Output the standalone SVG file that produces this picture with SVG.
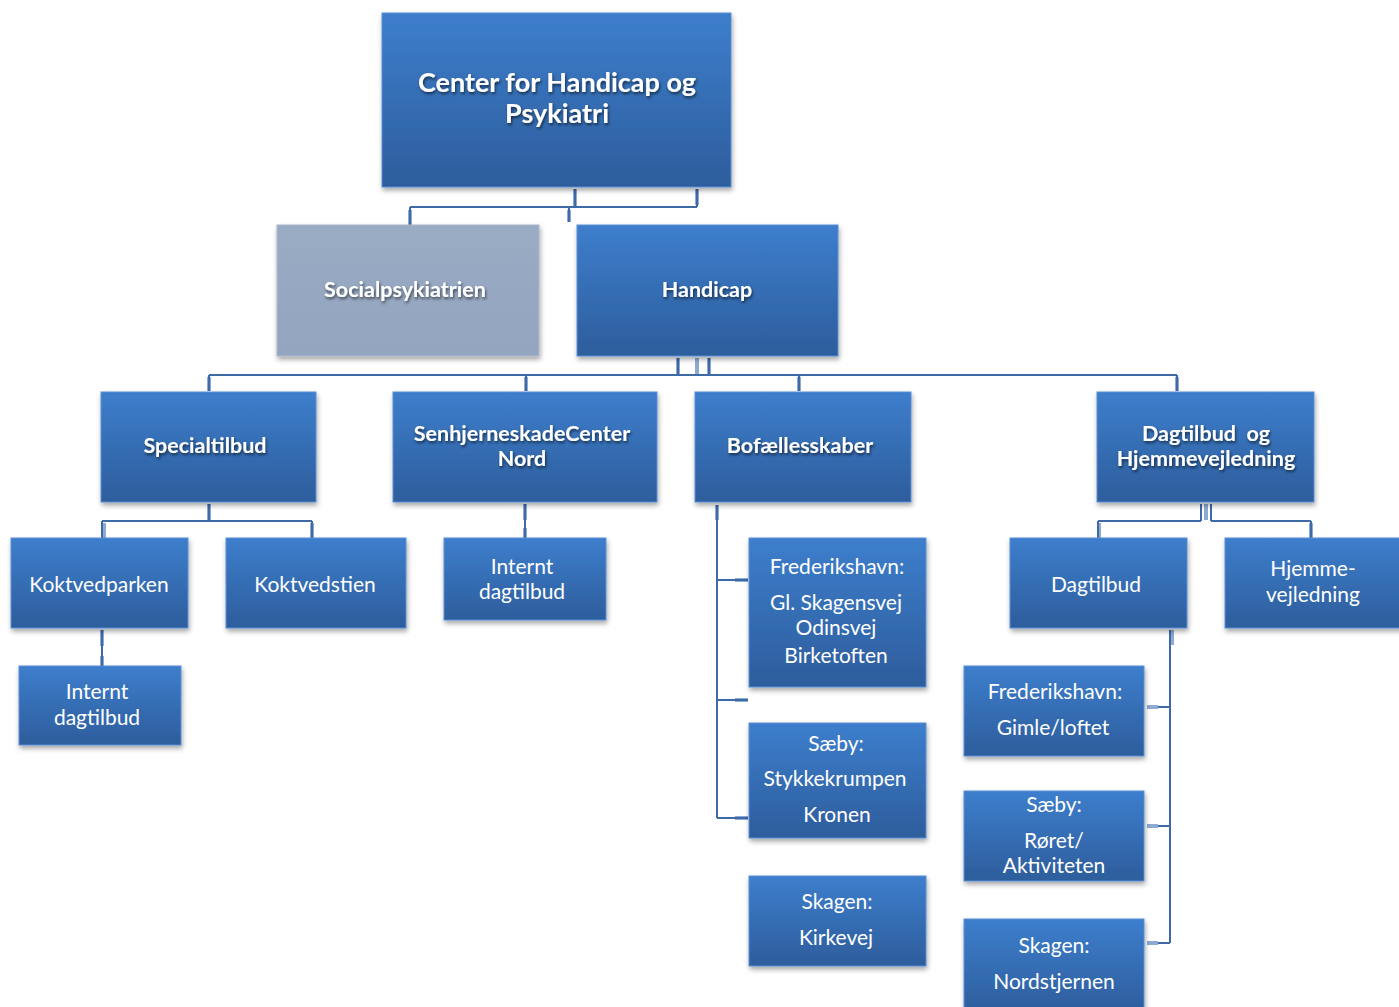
<svg xmlns="http://www.w3.org/2000/svg" width="1399" height="1007" viewBox="0 0 1399 1007">
<defs>
<linearGradient id="blue" x1="0" y1="0" x2="0" y2="1">
<stop offset="0" stop-color="#3d7ecc"/>
<stop offset="1" stop-color="#2d5d9c"/>
</linearGradient>
<linearGradient id="grey" x1="0" y1="0" x2="0" y2="1">
<stop offset="0" stop-color="#9aabc4"/>
<stop offset="1" stop-color="#93a5bf"/>
</linearGradient>
<filter id="sh" x="-10%" y="-10%" width="125%" height="130%">
<feDropShadow dx="1" dy="3" stdDeviation="2.5" flood-color="#000" flood-opacity="0.35"/>
</filter>
<filter id="tsh" x="-10%" y="-30%" width="120%" height="160%">
<feDropShadow dx="1" dy="2" stdDeviation="1.5" flood-color="#000" flood-opacity="0.6"/>
</filter>
</defs>
<style>
.box{fill:url(#blue);stroke:#5b8fd6;stroke-width:1;filter:url(#sh)}
.gbox{fill:url(#grey);stroke:#a9b8cc;stroke-width:1;filter:url(#sh)}
text{font-family:Lato,"Open Sans","Liberation Sans",sans-serif;fill:#fff;text-anchor:middle}
.t{font-size:21px}
.b{font-size:21.5px;font-weight:bold;filter:url(#tsh)}
.bt{font-size:27px;font-weight:bold;filter:url(#tsh)}
.ln{fill:none;stroke:#3e6aa8;stroke-width:2}
.st{fill:none;stroke:#8eaad2;stroke-width:4}
</style>
<rect width="1399" height="1007" fill="#fff"/>
<g id="connectors">
<path class="st" d="M575 189V206M697 189V205M410 210V225M569 210V222"/>
<path class="ln" d="M575 189V207M697 189V207M410 207H697M410 207V225M569 207V222"/>
<path class="st" d="M678 358V374M697 358V374M709 358V374M209 377V391M526 377V391M799 377V391M1177 377V391"/>
<path class="ln" d="M209 375H1177M209 375V391M526 375V391M799 375V391M1177 375V391M678 358V375M709 358V375"/>
<path class="st" d="M209 504V520M104 523V538M312 523V538"/>
<path class="ln" d="M209 504V521M102 521H312M102 521V538M312 521V538"/>
<path class="st" d="M102 630V646M102 656V666"/>
<path class="ln" d="M102 630V666"/>
<path class="st" d="M525 504V520M525 528V538"/>
<path class="ln" d="M525 504V538"/>
<path class="st" d="M717 505V520M735 580H748M735 700H748M735 818H748"/>
<path class="ln" d="M717 505V818M717 580H748M717 700H748M717 818H748"/>
<path class="st" d="M1206 504V520M1099 523V538M1311 523V538"/>
<path class="ln" d="M1201 504V521M1098 521H1201M1211 504V521M1211 521H1311M1098 521V538M1311 521V538"/>
<path class="st" d="M1172 630V645M1147 707H1158M1147 826H1158M1147 943H1158"/>
<path class="ln" d="M1170 630V943M1158 707H1170M1158 826H1170M1158 943H1170"/>
</g>
<g id="n-center"><rect class="box" x="382" y="13" width="349" height="174"/><text class="bt" x="557" y="92">Center for Handicap og</text><text class="bt" x="557" y="123">Psykiatri</text></g>
<g id="n-social"><rect class="gbox" x="277" y="225" width="262" height="131"/><text class="b" x="405" y="297">Socialpsykiatrien</text></g>
<g id="n-handicap"><rect class="box" x="577" y="225" width="261" height="131"/><text class="b" x="707" y="297">Handicap</text></g>
<g id="n-special"><rect class="box" x="101" y="392" width="215" height="110"/><text class="b" x="205" y="453">Specialtilbud</text></g>
<g id="n-senhjerne"><rect class="box" x="393" y="392" width="264" height="110"/><text class="b" x="522" y="441">SenhjerneskadeCenter</text><text class="b" x="522" y="466">Nord</text></g>
<g id="n-bof"><rect class="box" x="695" y="392" width="216" height="110"/><text class="b" x="800" y="453">Bofællesskaber</text></g>
<g id="n-dagtilbud-hjem"><rect class="box" x="1097" y="392" width="217" height="110"/><text class="b" x="1206" y="441" xml:space="preserve">Dagtilbud  og</text><text class="b" x="1206" y="466">Hjemmevejledning</text></g>
<g id="n-koktvedparken"><rect class="box" x="11" y="538" width="177" height="90"/><text class="t" x="99" y="592">Koktvedparken</text></g>
<g id="n-koktvedstien"><rect class="box" x="226" y="538" width="180" height="90"/><text class="t" x="315" y="592">Koktvedstien</text></g>
<g id="n-internt1"><rect class="box" x="19" y="666" width="162" height="79"/><text class="t" x="97" y="699">Internt</text><text class="t" x="97" y="725">dagtilbud</text></g>
<g id="n-internt2"><rect class="box" x="444" y="538" width="162" height="82"/><text class="t" x="522" y="574">Internt</text><text class="t" x="522" y="599">dagtilbud</text></g>
<g id="n-bof-frh"><rect class="box" x="749" y="538" width="177" height="149"/><text class="t" x="837" y="574">Frederikshavn:</text><text class="t" x="836" y="610">Gl. Skagensvej</text><text class="t" x="836" y="635">Odinsvej</text><text class="t" x="836" y="663">Birketoften</text></g>
<g id="n-bof-saeby"><rect class="box" x="749" y="723" width="177" height="115"/><text class="t" x="836" y="751">Sæby:</text><text class="t" x="835" y="786">Stykkekrumpen</text><text class="t" x="837" y="822">Kronen</text></g>
<g id="n-bof-skagen"><rect class="box" x="749" y="876" width="177" height="90"/><text class="t" x="837" y="909">Skagen:</text><text class="t" x="836" y="945">Kirkevej</text></g>
<g id="n-dagtilbud"><rect class="box" x="1010" y="538" width="177" height="90"/><text class="t" x="1096" y="592">Dagtilbud</text></g>
<g id="n-hjemme"><rect class="box" x="1225" y="538" width="180" height="90"/><text class="t" x="1313" y="576">Hjemme-</text><text class="t" x="1313" y="602">vejledning</text></g>
<g id="n-dag-frh"><rect class="box" x="964" y="666" width="180" height="90"/><text class="t" x="1055" y="699">Frederikshavn:</text><text class="t" x="1053" y="735">Gimle/loftet</text></g>
<g id="n-dag-saeby"><rect class="box" x="964" y="791" width="180" height="90"/><text class="t" x="1054" y="812">Sæby:</text><text class="t" x="1054" y="848">Røret/</text><text class="t" x="1054" y="873">Aktiviteten</text></g>
<g id="n-dag-skagen"><rect class="box" x="964" y="919" width="180" height="95"/><text class="t" x="1054" y="953">Skagen:</text><text class="t" x="1054" y="989">Nordstjernen</text></g>
</svg>
